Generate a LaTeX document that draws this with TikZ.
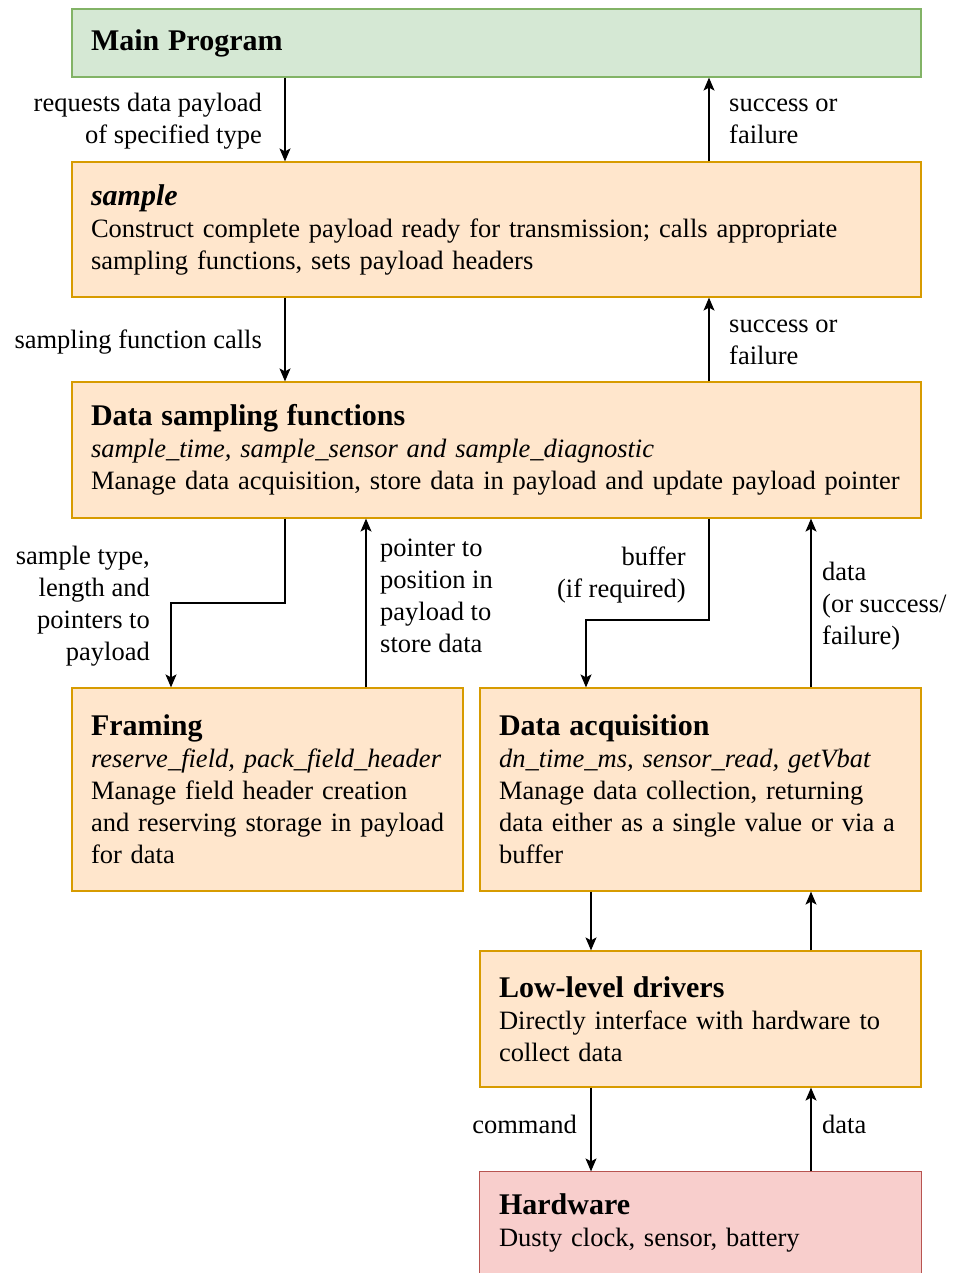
\documentclass[tikz,border=0pt]{standalone}
\usepackage{fontspec}
\setmainfont{Liberation Serif}
\usetikzlibrary{arrows.meta,calc}
\definecolor{gfill}{HTML}{D5E8D4}
\definecolor{gline}{HTML}{82B366}
\definecolor{ofill}{HTML}{FFE6CC}
\definecolor{oline}{HTML}{D79B00}
\definecolor{rfill}{HTML}{F8CECC}
\definecolor{rline}{HTML}{B85450}
\newcommand{\bodyfont}{\fontsize{26.5}{32}\selectfont}
\newcommand{\ttl}[1]{{\fontsize{30}{35}\selectfont\bfseries #1}}
\hbadness=10000 \hfuzz=50pt
\begin{document}
\begin{tikzpicture}[x=1pt,y=-1pt,
  box/.style={line width=1.2pt, inner xsep=19pt, inner ysep=0pt, align=left, font=\bodyfont},
  obox/.style={box, draw=oline, fill=ofill},
  arr/.style={line width=1.3pt, -{Stealth[length=13pt,width=11pt,inset=3pt]}},
  lbl/.style={inner sep=0pt, font=\bodyfont}]
\useasboundingbox (0,0) rectangle (955,1273);
\fill[white] (0,0) rectangle (955,1273);
% boxes
\node[box, draw=gline, fill=gfill, text width=811pt, minimum height=68pt] (main) at (496.5,43) {\ttl{Main Program}};
\node[obox, text width=811pt, minimum height=135pt] (sample) at (496.5,229.5)
  {\ttl{\itshape sample}\\Construct complete payload ready for transmission; calls appropriate\\sampling functions, sets payload headers};
\node[obox, text width=811pt, minimum height=136pt] (dsf) at (496.5,450)
  {\ttl{Data sampling functions}\\\textit{sample\_time, sample\_sensor and sample\_diagnostic}\\\mbox{Manage data acquisition, store data in payload and update payload pointer}};
\node[obox, text width=353pt, minimum height=203pt] (framing) at (267.5,789.5)
  {\ttl{Framing}\\\mbox{\itshape reserve\_field, pack\_field\_header}\\Manage field header creation\\\mbox{and reserving storage in payload}\\for data};
\node[obox, text width=403pt, minimum height=203pt] (acq) at (700.5,789.5)
  {\ttl{Data acquisition}\\\textit{dn\_time\_ms, sensor\_read, getVbat}\\Manage data collection, returning\\\mbox{data either as a single value or via a}\\buffer};
\node[obox, text width=403pt, minimum height=136pt] (lld) at (700.5,1019)
  {\ttl{Low-level drivers}\\Directly interface with hardware to\\collect data};
\node[box, fill=rfill, text width=403pt, minimum height=101pt] (hw) at (700.5,1222.5)
  {\ttl{Hardware}\\Dusty clock, sensor, battery};
\draw[rline, line width=1.2pt] (hw.south west) -- (hw.north west) -- (hw.north east) -- (hw.south east);
% x positions and bends
\coordinate (c1) at (285,0);
\coordinate (c2) at (709,0);
\coordinate (c3) at (171,0);
\coordinate (c4) at (366,0);
\coordinate (c5) at (586,0);
\coordinate (c6) at (811,0);
\coordinate (c7) at (591,0);
\coordinate (b1) at (285,603);
\coordinate (b2) at (709,620);
% connectors
\draw[arr] (main.south -| c1) -- (sample.north -| c1);
\draw[arr] (sample.north -| c2) -- (main.south -| c2);
\draw[arr] (sample.south -| c1) -- (dsf.north -| c1);
\draw[arr] (dsf.north -| c2) -- (sample.south -| c2);
\draw[arr] (dsf.south -| c1) -- (b1) -| (framing.north -| c3);
\draw[arr] (framing.north -| c4) -- (dsf.south -| c4);
\draw[arr] (dsf.south -| c2) -- (b2) -| (acq.north -| c5);
\draw[arr] (acq.north -| c6) -- (dsf.south -| c6);
\draw[arr] (acq.south -| c7) -- (lld.north -| c7);
\draw[arr] (lld.north -| c6) -- (acq.south -| c6);
\draw[arr] (lld.south -| c7) -- (hw.north -| c7);
\draw[arr] (hw.north -| c6) -- (lld.south -| c6);
% labels
\node[lbl, anchor=east, align=right] (l1) at (262,121) {requests data payload\\of specified type};
\node[lbl, anchor=west, align=left] (l2) at (729,121) {success or\\failure};
\node[lbl, anchor=east, align=right] (l3) at (262,342) {sampling function calls};
\node[lbl, anchor=west, align=left] (l4) at (729,342) {success or\\failure};
\node[lbl, anchor=east, align=right] (l5) at (150,606) {sample type,\\length and\\pointers to\\payload};
\node[lbl, anchor=west, align=left] (l6) at (380,596) {pointer to\\position in\\payload to\\store data};
\node[lbl, anchor=east, align=right] (l7) at (686,575) {buffer\\(if required)};
\node[lbl, anchor=west, align=left] (l8) at (822,606) {data\\(or success/\\failure)};
\node[lbl, anchor=east, align=right] (l9) at (577,1124) {command};
\node[lbl, anchor=west, align=left] (l10) at (822,1124) {data};
\end{tikzpicture}
\end{document}
